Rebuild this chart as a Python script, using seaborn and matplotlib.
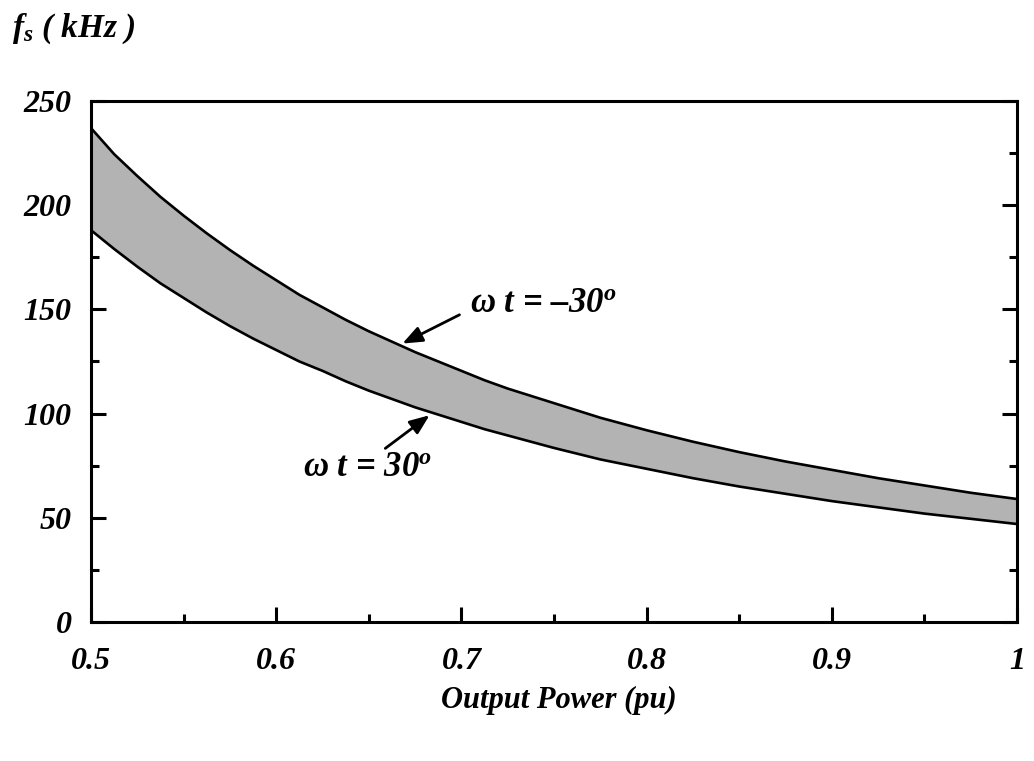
import matplotlib
matplotlib.use("Agg")
import matplotlib.pyplot as plt
import seaborn as sns
import pandas as pd
from matplotlib.ticker import MultipleLocator

# ---- data ----
power = [0.5, 0.5125, 0.525, 0.5375, 0.55, 0.5625, 0.575, 0.5875, 0.6, 0.6125,
         0.625, 0.6375, 0.65, 0.6625, 0.675, 0.6875, 0.7, 0.7125, 0.725, 0.7375,
         0.75, 0.775, 0.8, 0.825, 0.85, 0.875, 0.9, 0.925, 0.95, 0.975, 1.0]
fs_minus30 = [237, 224.5, 214, 204, 195, 186.5, 178.5, 171, 164, 157,
              151, 145, 139.5, 134.5, 129.5, 125, 120.5, 116, 112, 108.5,
              105, 98, 92, 86.5, 81.5, 77, 73, 69, 65.5, 62, 59]
fs_plus30 = [188, 179, 170.5, 162.5, 155.5, 148.5, 142, 136, 130.5, 125,
             120.5, 115.5, 111, 107, 103, 99.5, 96, 92.5, 89.5, 86.5,
             83.5, 78, 73.5, 69, 65, 61.5, 58, 55, 52, 49.5, 47]
xticks = [0.5, 0.6, 0.7, 0.8, 0.9, 1.0]
xticklabels = ["0.5", "0.6", "0.7", "0.8", "0.9", "1"]
yticks = [0, 50, 100, 150, 200, 250]
label_upper = r"ω t = –30$^{o}$"
label_lower = r"ω t = 30$^{o}$"

df = pd.DataFrame({"power": power + power,
                   "fs": fs_minus30 + fs_plus30,
                   "curve": ["-30"] * len(power) + ["30"] * len(power)})

sns.set_theme(style="white")
plt.rcParams["font.family"] = ["Liberation Serif", "DejaVu Serif"]
plt.rcParams["font.weight"] = "bold"
plt.rcParams["font.style"] = "italic"
plt.rcParams["text.color"] = "black"
plt.rcParams["xtick.color"] = "black"
plt.rcParams["ytick.color"] = "black"
plt.rcParams["mathtext.fontset"] = "custom"
plt.rcParams["mathtext.it"] = "Liberation Serif:bold:italic"
plt.rcParams["mathtext.rm"] = "Liberation Serif:bold:italic"
plt.rcParams["mathtext.bf"] = "Liberation Serif:bold:italic"

fig = plt.figure(figsize=(10.34, 7.61), dpi=100)
ax = fig.add_axes([0.088, 0.1827, 0.8956, 0.6846])

ax.fill_between(power, fs_plus30, fs_minus30, color="#b3b3b3", linewidth=0, zorder=1)
sns.lineplot(data=df, x="power", y="fs", hue="curve", palette=["black", "black"],
             linewidth=1.9, legend=False, ax=ax, zorder=3)

ax.set_xlim(0.5, 1.0)
ax.set_ylim(0, 250)
ax.set_xticks(xticks)
ax.set_xticklabels(xticklabels)
ax.set_yticks(yticks)
ax.xaxis.set_minor_locator(MultipleLocator(0.05))
ax.yaxis.set_minor_locator(MultipleLocator(25))
ax.tick_params(axis="both", which="major", direction="in", length=11, width=2.2,
               colors="black", labelsize=23)
ax.tick_params(axis="both", which="minor", direction="in", length=6, width=2.2,
               colors="black")
ax.tick_params(axis="y", which="both", left=True, right=True, pad=14)
ax.tick_params(axis="x", which="both", bottom=True, top=False, pad=18)
for lab in ax.get_xticklabels() + ax.get_yticklabels():
    lab.set_fontweight("bold")
    lab.set_fontstyle("italic")
    lab.set_family("Liberation Serif")
    lab.set_color("black")
for s in ax.spines.values():
    s.set_visible(True)
    s.set_color("black")
    s.set_linewidth(2.2)
ax.set_xlabel("")
ax.set_ylabel("")

# annotations
ax.annotate("", xy=(0.6668, 133), xytext=(0.7003, 148),
            arrowprops=dict(arrowstyle="-|>,head_length=1.0,head_width=0.4",
                            color="black", lw=2))
ax.text(0.7045, 153, label_upper, fontsize=25, fontweight="bold", fontstyle="italic",
        va="center", ha="left")
ax.annotate("", xy=(0.684, 100), xytext=(0.6577, 82.5),
            arrowprops=dict(arrowstyle="-|>,head_length=1.0,head_width=0.4",
                            color="black", lw=2))
ax.text(0.6145, 74, label_lower, fontsize=25, fontweight="bold", fontstyle="italic",
        va="center", ha="left")

fig.text(0.54, 0.08, "Output Power (pu)", fontsize=22, fontweight="bold",
         fontstyle="italic", ha="center", va="center")
fig.text(0.012, 0.962, r"$f_{s}$ ( kHz )", fontsize=24, fontweight="bold",
         fontstyle="italic", ha="left", va="center")

fig.savefig("out.png", dpi=100, facecolor="white")
